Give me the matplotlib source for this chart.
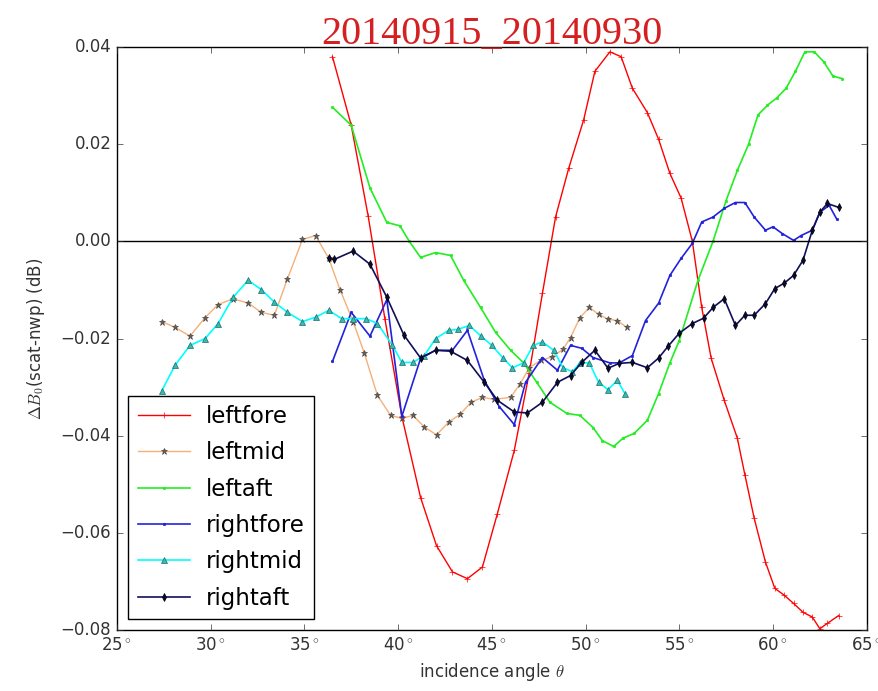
import matplotlib
matplotlib.use("Agg")
import matplotlib.pyplot as plt

# incidence angle (deg) and bias per beam
leftfore_x = [36.5, 37.5, 38.4, 39.3, 40.2, 41.2, 42.05, 42.9, 43.7, 44.5, 45.3, 46.2, 47.0, 47.7,
              48.4, 49.1, 49.9, 50.5, 51.3, 51.9, 52.5, 53.3, 53.9, 54.5, 55.1, 55.7, 56.2, 56.7,
              57.4, 58.1, 58.5, 59.0, 59.6, 60.1, 60.6, 61.1, 61.6, 62.1, 62.5, 62.9, 63.5]
leftfore_y = [0.038, 0.0239, 0.0053, -0.016, -0.036, -0.0527, -0.0626, -0.068, -0.0694, -0.067,
              -0.056, -0.043, -0.027, -0.0107, 0.005, 0.015, 0.025, 0.035, 0.039, 0.038, 0.0315,
              0.0265, 0.021, 0.014, 0.0089, 0.0, -0.0136, -0.024, -0.0327, -0.0405, -0.048, -0.057,
              -0.066, -0.0714, -0.0728, -0.0745, -0.0763, -0.0773, -0.0797, -0.0786, -0.077]

leftmid_x = [27.4, 28.1, 28.9, 29.7, 30.4, 31.2, 32.0, 32.7, 33.4, 34.1, 34.9, 35.6, 36.3, 36.9,
             37.6, 38.2, 38.9, 39.6, 40.2, 40.8, 41.4, 42.05, 42.7, 43.3, 43.9, 44.5, 45.1, 46.0,
             46.5, 47.0, 47.6, 48.2, 48.8, 49.2, 49.7, 50.2, 50.7, 51.2, 51.7, 52.2]
leftmid_y = [-0.0165, -0.0177, -0.0195, -0.0157, -0.013, -0.0118, -0.0127, -0.0146, -0.0152, -0.0077,
             0.0004, 0.0012, -0.0035, -0.0099, -0.0165, -0.023, -0.0317, -0.0358, -0.0364, -0.0358,
             -0.0382, -0.0398, -0.0372, -0.0356, -0.0331, -0.0321, -0.0325, -0.0321, -0.0294, -0.026,
             -0.0245, -0.0238, -0.0222, -0.0198, -0.0157, -0.0136, -0.015, -0.016, -0.0163, -0.0177]

leftaft_x = [36.5, 37.5, 38.5, 39.4, 40.1, 40.6, 41.2, 42.0, 42.8, 43.5, 44.4, 45.2, 46.0, 46.7,
             47.4, 48.1, 49.0, 49.7, 50.4, 50.9, 51.5, 52.0, 52.6, 53.3, 53.9, 54.5, 55.0, 56.0,
             56.8, 57.5, 58.1, 58.7, 59.2, 59.7, 60.2, 60.7, 61.2, 61.7, 62.2, 62.7, 63.2, 63.7]
leftaft_y = [0.0276, 0.0239, 0.011, 0.0039, 0.0032, 0.0, -0.0033, -0.0023, -0.0029, -0.008, -0.0136,
             -0.0187, -0.0224, -0.025, -0.029, -0.0331, -0.0354, -0.0358, -0.0383, -0.041, -0.0422,
             -0.0405, -0.0395, -0.0368, -0.0313, -0.025, -0.0204, -0.008, 0.0, 0.0084, 0.0146, 0.020,
             0.026, 0.028, 0.0295, 0.0315, 0.035, 0.039, 0.039, 0.037, 0.034, 0.0335]

rightfore_x = [36.5, 37.5, 38.5, 39.4, 40.2, 41.2, 42.0, 42.9, 43.7, 44.6, 45.4, 46.2, 46.8, 47.7,
               48.5, 49.2, 49.8, 50.4, 51.3, 51.8, 52.5, 53.2, 53.9, 54.5, 55.1, 55.7, 56.2, 56.8,
               57.4, 58.0, 58.5, 59.0, 59.6, 60.0, 60.5, 61.1, 61.5, 62.1, 62.5, 63.0, 63.4]
rightfore_y = [-0.0247, -0.0146, -0.0195, -0.012, -0.036, -0.0241, -0.0224, -0.0224, -0.0183, -0.0286,
               -0.034, -0.0377, -0.029, -0.0239, -0.0265, -0.0214, -0.022, -0.0239, -0.025, -0.025,
               -0.0235, -0.0163, -0.0127, -0.007, -0.0035, -0.0004, 0.004, 0.005, 0.0068, 0.008, 0.008,
               0.005, 0.0023, 0.003, 0.0016, 0.0002, 0.0012, 0.0023, 0.006, 0.0074, 0.0046]

rightmid_x = [27.4, 28.1, 28.9, 29.7, 30.4, 31.2, 32.0, 32.7, 33.4, 34.1, 34.9, 35.6, 36.3, 37.0,
              37.6, 38.3, 38.9, 39.7, 40.2, 40.8, 41.4, 42.0, 42.7, 43.2, 43.8, 44.4, 45.0, 45.6,
              46.1, 46.7, 47.2, 47.7, 48.3, 48.8, 49.3, 49.7, 50.2, 50.7, 51.2, 51.7, 52.1]
rightmid_y = [-0.0307, -0.0255, -0.0214, -0.020, -0.0169, -0.0115, -0.008, -0.0099, -0.0125, -0.0146,
              -0.0165, -0.0156, -0.0142, -0.0159, -0.0159, -0.0159, -0.0169, -0.0214, -0.0249, -0.0249,
              -0.0235, -0.020, -0.0183, -0.0181, -0.0173, -0.0194, -0.0214, -0.024, -0.026, -0.025,
              -0.0214, -0.0207, -0.0224, -0.026, -0.0268, -0.025, -0.025, -0.029, -0.0305, -0.0286,
              -0.0313]

rightaft_x = [36.3, 36.6, 37.6, 38.5, 39.4, 40.3, 41.2, 42.0, 42.8, 43.7, 44.6, 45.3, 46.2, 46.9,
              47.7, 48.5, 49.2, 49.8, 50.5, 51.2, 51.8, 52.5, 53.3, 53.9, 54.4, 55.0, 55.7, 56.3,
              56.8, 57.4, 58.0, 58.5, 59.0, 59.6, 60.1, 60.6, 61.1, 61.6, 62.1, 62.5, 62.9, 63.5]
rightaft_y = [-0.0035, -0.0037, -0.002, -0.0047, -0.0115, -0.0192, -0.024, -0.0224, -0.0226, -0.0245,
              -0.029, -0.0327, -0.0351, -0.0353, -0.0331, -0.029, -0.0276, -0.0249, -0.0224, -0.0261,
              -0.0251, -0.0249, -0.026, -0.024, -0.0216, -0.0189, -0.0169, -0.0158, -0.0136, -0.0118,
              -0.0173, -0.0152, -0.0152, -0.0128, -0.0097, -0.0086, -0.007, -0.0039, 0.0023, 0.006,
              0.0078, 0.007]

x_ticks = [25, 30, 35, 40, 45, 50, 55, 60, 65]
y_ticks = [-0.08, -0.06, -0.04, -0.02, 0.00, 0.02, 0.04]

plt.style.use("classic")
plt.rcParams["figure.facecolor"] = "white"
plt.rcParams["savefig.facecolor"] = "white"

fig = plt.figure(figsize=(8.79, 6.91), dpi=100)
ax = fig.add_axes([0.133, 0.088, 0.853, 0.844])

ax.plot(leftfore_x, leftfore_y, color="r", marker="+", markersize=4, lw=1, label="leftfore")
ax.plot(leftmid_x, leftmid_y, color="#f5b07a", marker="*", markersize=5,
        markerfacecolor="#6e5e4a", markeredgecolor="#4a4a4a", lw=1, label="leftmid")
ax.plot(leftaft_x, leftaft_y, color="#22ee22", marker=".", markersize=3.5, lw=1.2, label="leftaft")
ax.plot(rightfore_x, rightfore_y, color="#2222dd", marker=".", markersize=3.5, lw=1.2, label="rightfore")
ax.plot(rightmid_x, rightmid_y, color="cyan", marker="^", markersize=5,
        markerfacecolor="#3bb8b0", markeredgecolor="#1a6e6e", lw=1.2, label="rightmid")
ax.plot(rightaft_x, rightaft_y, color="#10105a", marker="d", markersize=4,
        markerfacecolor="#0a0a3a", markeredgecolor="black", lw=1.2, label="rightaft")

ax.axhline(0, color="black", lw=1)

ax.set_xlim(25, 65)
ax.set_ylim(-0.08, 0.04)
ax.set_xticks(x_ticks)
ax.set_xticklabels([f"{v}$^\\circ$" for v in x_ticks])
ax.set_yticks(y_ticks)
ax.set_yticklabels([f"{v:.2f}".replace("-", "\u2212") for v in y_ticks])
ax.tick_params(labelsize=12, colors="#333333")

ax.set_xlabel("incidence angle $\\theta$", fontsize=12, color="#333333")
ax.set_ylabel("$\\Delta B_0$(scat-nwp) (dB)", fontsize=12, color="#333333", labelpad=10)
ax.set_title("20140915_20140930", color="#d42020", fontsize=29,
             family=["Liberation Serif", "DejaVu Serif"], pad=2)

leg = ax.legend(loc="lower left", fontsize=16.5, handlelength=2.3, handletextpad=0.7,
                borderaxespad=0.5, labelspacing=0.58, numpoints=1)

fig.savefig("out.png", dpi=100, facecolor="white")
